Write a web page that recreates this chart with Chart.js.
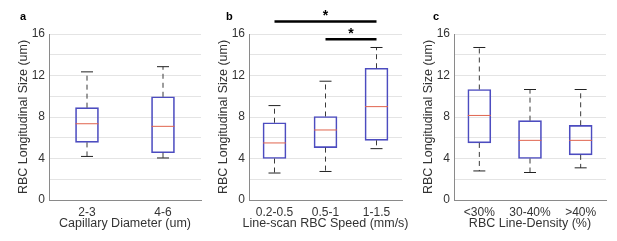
<!DOCTYPE html>
<html>
<head>
<meta charset="utf-8">
<script src="https://cdn.jsdelivr.net/npm/chart.js@4/dist/chart.umd.min.js"></script>
<style>
  html, body { margin: 0; padding: 0; background: #fff; }
  #wrap { position: relative; width: 617px; height: 241px; overflow: hidden; }
  canvas { position: absolute; top: 0; }
</style>
</head>
<body>
<div id="wrap">
  <canvas id="panel-a" width="205" height="241" style="left:0px"></canvas>
  <canvas id="panel-b" width="212" height="241" style="left:200px"></canvas>
  <canvas id="panel-c" width="205" height="241" style="left:405px"></canvas>
</div>
<script>
// panel a: capillary diameter
const diamLabels = ["2-3", "4-6"];
const diamLow = [4.2, 4.05];
const diamQ1 = [5.55, 4.55];
const diamMed = [7.35, 7.1];
const diamQ3 = [8.9, 9.95];
const diamHigh = [12.35, 12.85];

// panel b: line-scan speed
const speedLabels = ["0.2-0.5", "0.5-1", "1-1.5"];
const speedLow = [2.6, 2.75, 4.95];
const speedQ1 = [4.0, 5.05, 5.75];
const speedMed = [5.5, 6.75, 9.0];
const speedQ3 = [7.45, 8.05, 12.7];
const speedHigh = [9.1, 11.45, 14.7];
// significance: [from index, to index, bar height]
const speedSig = [[0, 2, 17.2], [1, 2, 15.5]];

// panel c: line density
const densLabels = ["<30%", "30-40%", ">40%"];
const densLow = [2.8, 2.65, 3.1];
const densQ1 = [5.5, 4.0, 4.35];
const densMed = [8.15, 5.75, 5.75];
const densQ3 = [10.65, 7.65, 7.2];
const densHigh = [14.7, 10.65, 10.65];

const yTicks = [0, 4, 8, 12, 16];

const FONT = "'Liberation Sans', Arial, sans-serif";
const BOX_BLUE = "#4c4cc0";
const MED_RED = "#e0644e";

// draws whiskers, caps, medians, significance bars, x title and the panel letter
const boxExtras = {
    id: "boxExtras",
    afterDatasetsDraw(chart) {
        const st = chart.options.plugins.boxExtras;
        const { ctx, chartArea } = chart;
        const x = chart.scales.x;
        const y = chart.scales.y;
        ctx.save();
        st.low.forEach((lo, i) => {
            const cx = x.getPixelForValue(i);
            const pLo = y.getPixelForValue(lo);
            const pQ1 = y.getPixelForValue(st.q1[i]);
            const pQ3 = y.getPixelForValue(st.q3[i]);
            const pHi = y.getPixelForValue(st.high[i]);
            const pMed = y.getPixelForValue(st.med[i]);
            ctx.strokeStyle = "#3a3a3a";
            ctx.lineWidth = 1;
            ctx.setLineDash([5, 4]);
            ctx.beginPath();
            ctx.moveTo(cx, pQ3); ctx.lineTo(cx, pHi);
            ctx.moveTo(cx, pQ1); ctx.lineTo(cx, pLo);
            ctx.stroke();
            ctx.setLineDash([]);
            ctx.strokeStyle = "#222";
            ctx.beginPath();
            ctx.moveTo(cx - 6, pHi); ctx.lineTo(cx + 6, pHi);
            ctx.moveTo(cx - 6, pLo); ctx.lineTo(cx + 6, pLo);
            ctx.stroke();
            ctx.strokeStyle = MED_RED;
            ctx.beginPath();
            ctx.moveTo(cx - 11.5, pMed); ctx.lineTo(cx + 11.5, pMed);
            ctx.stroke();
        });
        (st.sig || []).forEach(s => {
            const x1 = x.getPixelForValue(s[0]);
            const x2 = x.getPixelForValue(s[1]);
            const py = y.getPixelForValue(s[2]);
            ctx.strokeStyle = "#000";
            ctx.lineWidth = 2.5;
            ctx.beginPath();
            ctx.moveTo(x1, py); ctx.lineTo(x2, py);
            ctx.stroke();
            ctx.fillStyle = "#000";
            ctx.font = "bold 14px " + FONT;
            ctx.textAlign = "center";
            ctx.textBaseline = "middle";
            ctx.fillText("*", (x1 + x2) / 2, py - 5);
        });
        // x axis title, allowed to run wider than the plot like the original
        ctx.fillStyle = "#333";
        ctx.font = "12.5px " + FONT;
        ctx.textAlign = "center";
        ctx.textBaseline = "middle";
        ctx.fillText(st.xTitle, (chartArea.left + chartArea.right) / 2, 224);

        ctx.fillStyle = "#000";
        ctx.font = "bold 11px " + FONT;
        ctx.textAlign = "left";
        ctx.fillText(st.letter, st.letterX, 17);
        ctx.restore();
    }
};

function makePanel(id, labels, low, q1, med, q3, high, xTitle, letter, letterX, sig, padRight) {
    const canvas = document.getElementById(id);
    new Chart(canvas, {
        type: "bar",
        data: {
            labels: labels,
            datasets: [{
                data: q1.map((v, i) => [v, q3[i]]),
                backgroundColor: "rgba(0,0,0,0)",
                borderColor: BOX_BLUE,
                borderWidth: 1,
                borderSkipped: false,
                barThickness: 23
            }]
        },
        options: {
            responsive: false,
            animation: false,
            layout: { padding: { top: 34, right: padRight, left: 0, bottom: 0 } },
            plugins: {
                legend: { display: false },
                tooltip: { enabled: false },
                boxExtras: { low, q1, med, q3, high, sig, letter, letterX, xTitle }
            },
            scales: {
                x: {
                    grid: { display: false, drawTicks: false },
                    border: { color: "#8a8a8a" },
                    ticks: { color: "#333", font: { family: FONT, size: 12 }, padding: 5 },
                    afterFit(scale) { scale.height = 41; }
                },
                y: {
                    min: 0,
                    max: 16,
                    grid: { color: "#e4e4e4", drawTicks: false },
                    border: { color: "#8a8a8a" },
                    afterBuildTicks(scale) { scale.ticks = [0, 2, 4, 6, 8, 10, 12, 14, 16].map(v => ({ value: v })); },
                    ticks: {
                        color: "#333", font: { family: FONT, size: 12 }, padding: 4,
                        callback: v => yTicks.includes(v) ? String(v) : ""
                    },
                    title: {
                        display: true, text: "RBC Longitudinal Size (um)", color: "#333",
                        font: { family: FONT, size: 12.5 }, padding: { top: 16, bottom: 0 }
                    },
                    afterFit(scale) { scale.width = 49; }
                }
            }
        },
        plugins: [boxExtras]
    });
}

makePanel("panel-a", diamLabels, diamLow, diamQ1, diamMed, diamQ3, diamHigh,
    "Capillary Diameter (um)", "a", 20, null, 4);
makePanel("panel-b", speedLabels, speedLow, speedQ1, speedMed, speedQ3, speedHigh,
    "Line-scan RBC Speed (mm/s)", "b", 26, speedSig, 10);
makePanel("panel-c", densLabels, densLow, densQ1, densMed, densQ3, densHigh,
    "RBC Line-Density (%)", "c", 28, null, 4);
</script>
</body>
</html>
